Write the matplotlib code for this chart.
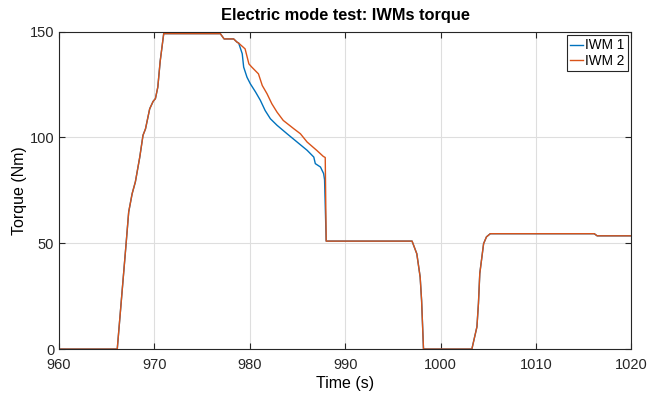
import matplotlib
matplotlib.use("Agg")
import matplotlib.pyplot as plt

plt.rcParams['font.family'] = ['Liberation Sans', 'DejaVu Sans']

title = "Electric mode test: IWMs torque"
xlabel = "Time (s)"
ylabel = "Torque (Nm)"
series_names = ["IWM 1", "IWM 2"]

# common segments
t_rise = [960.0, 966.1, 967.0, 967.3, 967.66, 968.0, 968.46, 968.8, 969.06, 969.5, 969.86,
          970.1, 970.35, 970.6, 970.97, 976.9, 977.3, 978.3, 978.65]
v_rise = [0.0, 0.0, 48.3, 64.8, 73.4, 79.0, 90.7, 101.0, 104.0, 113.5, 117.0,
          118.3, 123.7, 136.0, 149.0, 149.0, 146.5, 146.5, 145.0]

t_tail = [988.0, 997.0, 997.5, 997.85, 998.0, 998.2, 1003.27, 1003.8, 1003.96, 1004.1,
          1004.5, 1004.8, 1005.2, 1016.1, 1016.4, 1020.0]
v_tail = [51.0, 51.0, 45.0, 34.0, 23.0, 0.0, 0.0, 10.5, 21.6, 35.7,
          49.8, 53.0, 54.5, 54.5, 53.5, 53.5]

# IWM 1 descent
t_iwm1 = [978.83, 979.2, 979.35, 979.7, 980.05, 980.6, 981.1, 981.6, 982.15, 982.85,
          983.9, 984.95, 986.0, 986.7, 986.86, 987.4, 987.73, 987.83]
v_iwm1 = [144.5, 139.5, 133.2, 128.4, 125.3, 121.4, 117.5, 112.7, 108.8, 105.7,
          101.7, 97.8, 93.9, 90.7, 87.6, 86.0, 82.9, 80.0]

# IWM 2 descent
t_iwm2 = [978.83, 979.5, 979.9, 980.2, 980.9, 981.3, 981.8, 982.3, 982.85, 983.5,
          984.6, 985.3, 986.0, 987.0, 987.7, 987.9]
v_iwm2 = [144.5, 141.8, 134.7, 133.2, 130.0, 124.5, 120.6, 115.9, 111.9, 108.0,
          104.1, 101.7, 97.8, 93.9, 91.0, 90.5]

x_ticks = [960, 970, 980, 990, 1000, 1010, 1020]
y_ticks = [0, 50, 100, 150]

fig = plt.figure(figsize=(6.49, 3.94), dpi=100)
ax = fig.add_axes([0.091, 0.114, 0.882, 0.806])

t1 = t_rise + t_iwm1 + t_tail
y1 = v_rise + v_iwm1 + v_tail
t2 = t_rise + t_iwm2 + t_tail
y2 = v_rise + v_iwm2 + v_tail

ax.plot(t1, y1, color='#0072BD', lw=1.0, label=series_names[0])
ax.plot(t2, y2, color='#D95319', lw=1.0, label=series_names[1])

ax.set_xlim(960, 1020)
ax.set_ylim(0, 150)
ax.set_xticks(x_ticks)
ax.set_yticks(y_ticks)
ax.grid(True, color='#dedede', lw=0.8)
ax.set_axisbelow(True)
ax.tick_params(direction='in', length=4, labelsize=10.5, colors='#262626', top=True, right=True)
ax.tick_params(axis='x', pad=6.5)
ax.tick_params(axis='y', pad=3.5)
for s in ax.spines.values():
    s.set_color('#262626')
    s.set_linewidth(0.8)

ax.set_title(title, fontsize=11.8, fontweight='bold', pad=8.5)
ax.set_xlabel(xlabel, fontsize=11.5, labelpad=2.5)
ax.set_ylabel(ylabel, fontsize=11.5, labelpad=2)

leg = ax.legend(loc='upper right', fontsize=9.8, handlelength=0.9, handletextpad=0.2,
                borderpad=0.25, labelspacing=0.1, fancybox=False, framealpha=1,
                borderaxespad=0.25)
leg.get_frame().set_edgecolor('#262626')
leg.get_frame().set_linewidth(0.8)

fig.savefig("out.png", dpi=100)
